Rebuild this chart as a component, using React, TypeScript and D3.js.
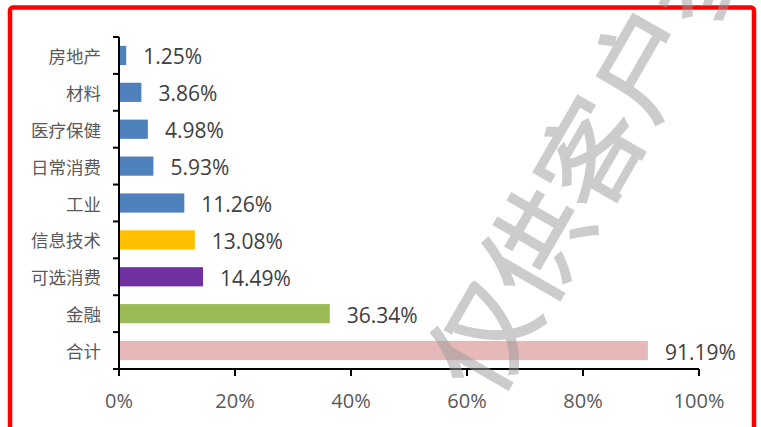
import React from "react";
import * as d3 from "d3";

const categories = ["房地产", "材料", "医疗保健", "日常消费", "工业", "信息技术", "可选消费", "金融", "合计"];
const values = [1.25, 3.86, 4.98, 5.93, 11.26, 13.08, 14.49, 36.34, 91.19];
const barColors = ["#4F81BD", "#4F81BD", "#4F81BD", "#4F81BD", "#4F81BD", "#FFC000", "#7030A0", "#9BBB59", "#E6B9B8"];
const xTicks = [0, 20, 40, 60, 80, 100];
const watermark = "仅供客户参考";

const W = 761;
const H = 427;

export default function App() {
  const x = d3.scaleLinear().domain([0, 100]).range([119, 699]);
  const y = d3.scaleBand<string>().domain(categories).range([37, 369]).paddingInner(0.48).paddingOuter(0.24);
  const bandStep = (369 - 37) / categories.length;
  const catFont = "'Noto Sans CJK SC', sans-serif";
  const numFont = "'Open Sans', 'Noto Sans', sans-serif";
  return (
    <svg width={W} height={H} style={{ position: "absolute", left: 0, top: 0, background: "#fff" }}>
      <rect x={0} y={0} width={W} height={H} fill="#fff" />
      {/* red frame */}
      <rect x={10} y={7.5} width={744} height={440} rx={3} fill="none" stroke="#FF0000" strokeWidth={4.5} />
      {/* bars */}
      {categories.map((c, i) => (
        <rect key={c} x={x(0)} y={y(c)!} width={x(values[i]) - x(0)} height={y.bandwidth()} fill={barColors[i]} />
      ))}
      {/* value labels */}
      {categories.map((c, i) => (
        <text key={c} x={x(values[i]) + 17} y={y(c)! + y.bandwidth() / 2 + 1} dominantBaseline="central"
          fontFamily={numFont} fontSize={21} fill="#404040">
          {values[i].toFixed(2) + "%"}
        </text>
      ))}
      {/* category labels */}
      {categories.map((c) => (
        <text key={c} x={101} y={y(c)! + y.bandwidth() / 2} dominantBaseline="central" textAnchor="end"
          fontFamily={catFont} fontSize={17.5} fill="#595959">
          {c}
        </text>
      ))}
      {/* y axis */}
      <line x1={x(0)} x2={x(0)} y1={37} y2={369} stroke="#000" strokeWidth={2} />
      {d3.range(categories.length + 1).map((k) => (
        <line key={k} x1={x(0) - 6} x2={x(0)} y1={37 + k * bandStep} y2={37 + k * bandStep} stroke="#000" strokeWidth={2} />
      ))}
      {/* x axis */}
      <line x1={x(0) - 6} x2={x(100)} y1={369} y2={369} stroke="#000" strokeWidth={2} />
      {xTicks.map((t) => (
        <g key={t}>
          <line x1={x(t)} x2={x(t)} y1={369} y2={376} stroke="#000" strokeWidth={2} />
          <text x={x(t)} y={400} textAnchor="middle" dominantBaseline="central" fontFamily={numFont} fontSize={20} fill="#595959">
            {t + "%"}
          </text>
        </g>
      ))}
      {/* watermark */}
      <text x={452} y={380} transform="rotate(-60 452 380)" dominantBaseline="central"
        fontFamily={catFont} fontSize={106} fontWeight={500} fill="#999999" fillOpacity={0.5}>
        {watermark}
      </text>
    </svg>
  );
}
